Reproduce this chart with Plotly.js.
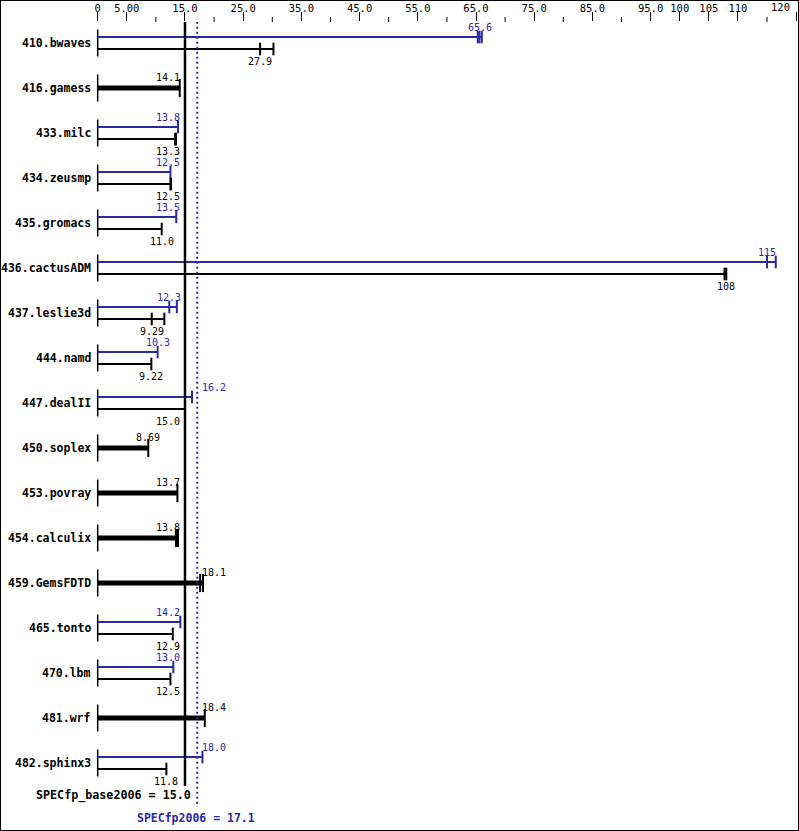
<!DOCTYPE html>
<html><head><meta charset="utf-8">
<script src="https://cdn.plot.ly/plotly-3.0.1.min.js"></script>
<style>
html,body{margin:0;padding:0;background:#fff;}
#chart{width:799px;height:831px;box-sizing:border-box;border:1px solid #000;overflow:hidden;}
</style></head><body><div id="chart"></div>
<script>
const benchmarks = ['410.bwaves','416.gamess','433.milc','434.zeusmp','435.gromacs','436.cactusADM','437.leslie3d','444.namd','447.dealII','450.soplex','453.povray','454.calculix','459.GemsFDTD','465.tonto','470.lbm','481.wrf','482.sphinx3'];
const baseValues = [27.9, 14.1, 13.3, 12.5, 11.0, 108, 9.29, 9.22, 15.0, 8.69, 13.7, 13.8, 18.1, 12.9, 12.5, 18.4, 11.8];
const baseRuns = [[27.9,30.2],[14.1],[13.3,13.45],[12.5,12.6],[11.0],[107.7,108],[9.29,11.45],[9.22],[15.0],[8.69],[13.7],[13.45,13.8],[17.6,18.1],[12.9],[12.5],[18.4],[11.8]];
const peakValues = [65.6, null, 13.8, 12.5, 13.5, 115, 12.3, 10.3, 16.2, null, null, null, null, 14.2, 13.0, null, 18.0];
const peakRuns = [[65.3,65.6,66.0], null, [13.8],[12.5],[13.5],[115,116.5],[12.3,13.6],[10.3],[16.2], null, null, null, null, [14.2],[13.0], null, [18.0]];
const baseScore = 15.0, peakScore = 17.1;
const baseName = 'SPECfp_base2006', peakName = 'SPECfp2006';
const tickValues = [0,5,15,25,35,45,55,65,75,85,95,100,105,110,120];
const tickLabels = ['0','5.00','15.0','25.0','35.0','45.0','55.0','65.0','75.0','85.0','95.0','100','105','110','120'];
const minorTickValues = [10,20,30,40,50,60,70,80,90,115];

const MONO = 'DejaVu Sans Mono';
const BLUE = '#2828a8';
const PXU = 5.82;       // pixels per unit on x
const OFF = 6/45;       // vertical offset of bar pair, in row units
const PLOT_H = 829 - 21 - 13;
const traces = [], annotations = [];

function fmt(v){ return v.toPrecision(3); }

function placeLabel(v, text){
  const w = text.length * 6.02;
  const cx = v * PXU;
  const lim1 = baseScore * PXU - 3;
  const lim2 = peakScore * PXU + 2.5;
  const left = cx - w/2, right = cx + w/2;
  if (right > lim1 && left < lim2) {
    if (cx < (lim1 + lim2)/2) return {x: lim1 / PXU, xanchor: 'right'};
    return {x: lim2 / PXU, xanchor: 'left'};
  }
  return {x: v, xanchor: 'center'};
}

function addBar(y, runs, value, color, lw, cap, labelShift){
  const mx = Math.max(...runs);
  traces.push({x:[0,mx], y:[y,y], mode:'lines', line:{color:color, width:lw}, hoverinfo:'skip'});
  traces.push({x:runs, y:runs.map(()=>y), mode:'markers', hoverinfo:'skip',
    marker:{symbol:'line-ns', size:cap, color:color, line:{width:2, color:color}}});
  const text = fmt(value);
  const p = placeLabel(value, text);
  annotations.push({xref:'x', yref:'y', x:p.x, xanchor:p.xanchor, y:y, yanchor:'middle', yshift:labelShift,
    text:text, showarrow:false, font:{family:MONO, size:10, color:color}});
}

benchmarks.forEach((name, i) => {
  traces.push({x:[0,0], y:[i-0.3, i+0.3], mode:'lines', line:{color:'#000', width:1.5}, hoverinfo:'skip'});
  annotations.push({xref:'paper', x:0, xanchor:'right', xshift:-3, yref:'y', y:i, yanchor:'middle',
    text:name, showarrow:false, font:{family:MONO, size:11.5, color:'#000', weight:'bold'}});
  if (peakValues[i] !== null) {
    addBar(i - OFF, peakRuns[i], peakValues[i], BLUE, 2, 9, 10);
    addBar(i + OFF, baseRuns[i], baseValues[i], '#000', 2, 9, -12);
  } else {
    addBar(i, baseRuns[i], baseValues[i], '#000', 5, 13, 11);
  }
});

const last = benchmarks.length - 1;
annotations.push({xref:'x', yref:'y', x:baseScore, xanchor:'right', xshift:8, y:last, yshift:-32, yanchor:'middle',
  text: baseName + ' = ' + baseScore.toFixed(1), showarrow:false, font:{family:MONO, size:11.7, color:'#000', weight:'bold'}});
annotations.push({xref:'x', yref:'y', x:peakScore, xanchor:'center', xshift:-1.5, y:last, yshift:-55, yanchor:'middle',
  text: peakName + ' = ' + peakScore.toFixed(1), showarrow:false, font:{family:MONO, size:11.5, color:BLUE, weight:'bold'}});

// last tick label sits left of its tick (at the chart edge)
const lastTick = tickValues.length - 1;
const tickText = tickLabels.map((t, k) => k === lastTick ? '' : t);
annotations.push({xref:'x', yref:'paper', x:tickValues[lastTick], xanchor:'right', xshift:-4, y:1, yanchor:'middle', yshift:15,
  text: tickLabels[lastTick], showarrow:false, font:{family:MONO, size:10.5, color:'#000'}});

const shapes = [
  {type:'line', xref:'x', yref:'y', x0:baseScore, x1:baseScore, y0:-0.47, y1:last + 0.51, line:{color:'#000', width:2.5}, layer:'above'},
  {type:'line', xref:'x', yref:'y', x0:peakScore, x1:peakScore, y0:-0.47, y1:last + 0.98, line:{color:BLUE, width:2, dash:'2px,3px'}, layer:'above'}
];
minorTickValues.forEach(v => {
  shapes.push({type:'line', xref:'x', yref:'paper', x0:v, x1:v, y0:1, y1:1 + 5/PLOT_H, line:{color:'#000', width:1}, layer:'above'});
});

const layout = {
  width:797, height:829, margin:{l:95, r:1, t:21, b:13},
  paper_bgcolor:'#fff', plot_bgcolor:'#fff', showlegend:false,
  xaxis:{side:'top', range:[-0.29, 120.15], tickmode:'array', tickvals:tickValues, ticktext:tickText,
    ticks:'outside', ticklen:9, tickwidth:1, tickcolor:'#000', showgrid:false, zeroline:false, showline:false,
    tickfont:{family:MONO, size:10.5, color:'#000'}, fixedrange:true, ticklabeloverflow:'allow', ticklabelstandoff:-4},
  yaxis:{range:[17.2, -0.4667], showticklabels:false, showgrid:false, zeroline:false, ticks:'', fixedrange:true},
  shapes: shapes, annotations: annotations
};
Plotly.newPlot('chart', traces, layout, {displayModeBar:false, staticPlot:true});
</script></body></html>
